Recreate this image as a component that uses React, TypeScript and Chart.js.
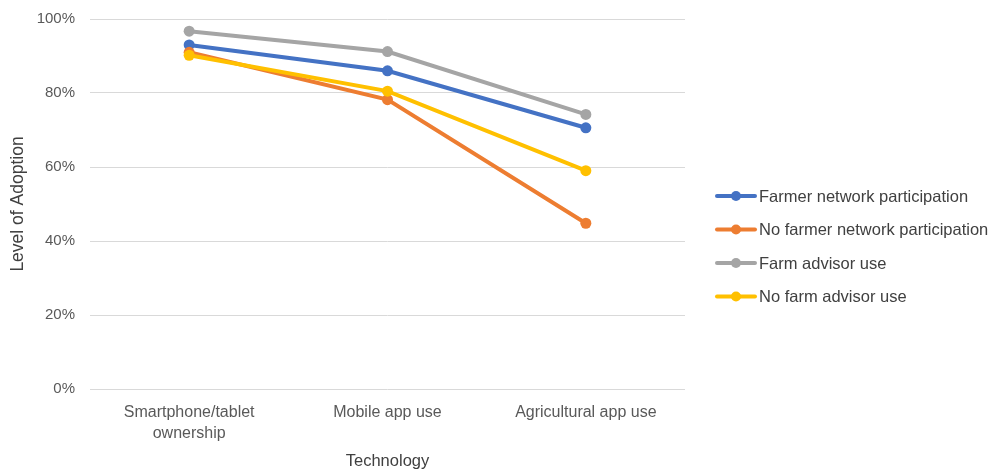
import React, { useEffect, useRef } from "react";
import { Chart, registerables } from "chart.js";

Chart.register(...registerables);

const categories: (string | string[])[] = [
  ["Smartphone/tablet", "ownership"],
  "Mobile app use",
  "Agricultural app use",
];
const seriesNames = [
  "Farmer network participation",
  "No farmer network participation",
  "Farm advisor use",
  "No farm advisor use",
];
const farmerNetwork = [93, 86, 70.6];
const noFarmerNetwork = [91, 78.2, 44.8];
const farmAdvisor = [96.7, 91.2, 74.2];
const noFarmAdvisor = [90.2, 80.5, 59];
const colors = ["#4472C4", "#ED7D31", "#A5A5A5", "#FFC000"];
const yTicks = [0, 20, 40, 60, 80, 100];

const FONT = "'Liberation Sans', Arial, sans-serif";

const legendPlugin = {
  id: "customLegend",
  afterDraw(chart: any) {
    const ctx = chart.ctx as CanvasRenderingContext2D;
    const area = chart.chartArea;
    const x0 = area.right + 30;
    const ys = [196, 229.5, 263, 296.5];
    ctx.save();
    chart.data.datasets.forEach((ds: any, i: number) => {
      const y = ys[i];
      const c = colors[i];
      ctx.strokeStyle = c;
      ctx.lineWidth = 4;
      ctx.lineCap = "round";
      ctx.beginPath();
      ctx.moveTo(x0 + 2, y);
      ctx.lineTo(x0 + 40, y);
      ctx.stroke();
      ctx.fillStyle = c;
      ctx.beginPath();
      ctx.arc(x0 + 21, y, 5, 0, Math.PI * 2);
      ctx.fill();
      ctx.fillStyle = "#404040";
      ctx.font = "16.5px " + FONT;
      ctx.textBaseline = "middle";
      ctx.textAlign = "left";
      ctx.fillText(ds.label, x0 + 44, y + 1);
    });
    ctx.restore();
  },
};

export default function App() {
  const ref = useRef<HTMLCanvasElement>(null);
  useEffect(() => {
    document.body.style.margin = "0";
    const values = [farmerNetwork, noFarmerNetwork, farmAdvisor, noFarmAdvisor];
    const chart = new Chart(ref.current!, {
      type: "line",
      data: {
        labels: categories,
        datasets: values.map((v, i) => ({
          label: seriesNames[i],
          data: v,
          borderColor: colors[i],
          backgroundColor: colors[i],
          borderWidth: 4,
          pointRadius: 5.5,
          pointBorderWidth: 0,
          pointBackgroundColor: colors[i],
          tension: 0,
          order: 3 - i,
        })),
      },
      plugins: [legendPlugin],
      options: {
        animation: false,
        responsive: false,
        layout: { padding: { top: 19, right: 308, left: 0, bottom: 0 } },
        plugins: {
          tooltip: { enabled: false },
          legend: { display: false },
        },
        scales: {
          x: {
            offset: true,
            grid: { display: false, drawTicks: false },
            border: { display: false },
            afterFit: (axis: any) => {
              axis.height = 84;
              axis.paddingLeft = 0;
              axis.paddingRight = 0;
            },
            ticks: {
              color: "#595959",
              font: { family: FONT, size: 16, lineHeight: 1.3 },
              padding: 13,
              maxRotation: 0,
              autoSkip: false,
            },
            title: {
              display: true,
              text: "Technology",
              color: "#404040",
              font: { family: FONT, size: 16.5, lineHeight: 1.2 },
              padding: { top: 0, bottom: 2 },
            },
          },
          y: {
            min: 0,
            max: 100,
            afterBuildTicks: (axis: any) => {
              axis.ticks = yTicks.map((v) => ({ value: v }));
            },
            afterFit: (axis: any) => {
              axis.width = 90;
              axis.paddingTop = 0;
              axis.paddingBottom = 0;
            },
            grid: { color: "#D9D9D9", lineWidth: 1, drawTicks: false },
            border: { display: false },
            ticks: {
              color: "#595959",
              font: { family: FONT, size: 15 },
              padding: 15,
              callback: (v: any) => v + "%",
            },
            title: {
              display: true,
              text: "Level of Adoption",
              color: "#404040",
              font: { family: FONT, size: 17.5, lineHeight: 1.2 },
              padding: { top: 8, bottom: 0 },
            },
          },
        },
      },
    });
    return () => chart.destroy();
  }, []);
  return <canvas ref={ref} width={993} height={473} style={{ display: "block" }} />;
}
